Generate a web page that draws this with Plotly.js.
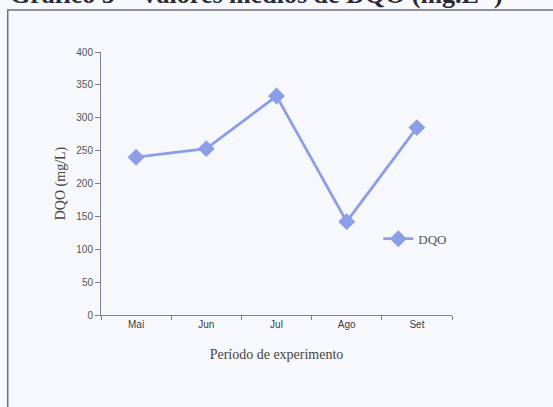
<!DOCTYPE html>
<html>
<head>
<meta charset="utf-8">
<script src="https://cdn.plot.ly/plotly-3.0.1.min.js"></script>
<style>html,body{margin:0;padding:0;background:#f7f8fb;}#chart{width:553px;height:407px;}</style>
</head>
<body>
<div id="chart"></div>
<script>
const months = ["Mai", "Jun", "Jul", "Ago", "Set"];
const dqo = [240, 253, 333, 142, 285];
const yTicks = [0, 50, 100, 150, 200, 250, 300, 350, 400];
const seriesName = "DQO";

const lineColor = "#8c9fe6";
const axisColor = "#7a7f9e";

const trace = {
  x: months,
  y: dqo,
  type: "scatter",
  mode: "lines+markers",
  name: seriesName,
  line: {color: lineColor, width: 2.8},
  marker: {symbol: "diamond", size: 13, color: lineColor}
};

const layout = {
  width: 553,
  height: 407,
  margin: {l: 101, r: 101, t: 52, b: 92},
  paper_bgcolor: "#f7f8fb",
  plot_bgcolor: "rgba(0,0,0,0)",
  showlegend: true,
  legend: {
    x: 0.79, y: 0.29, xanchor: "left", yanchor: "middle",
    bgcolor: "rgba(0,0,0,0)",
    font: {family: "Liberation Serif, Times New Roman, serif", size: 13, color: "#555"}
  },
  xaxis: {
    type: "category",
    range: [-0.5, 4.5],
    showline: true, linecolor: axisColor, linewidth: 1,
    ticks: "outside", tickson: "boundaries", ticklen: 4, tickcolor: axisColor,
    showgrid: false, zeroline: false,
    tickfont: {family: "Liberation Sans, Arial, sans-serif", size: 10, color: "#3a3a48"},
    title: {text: "Período de experimento", standoff: 20,
      font: {family: "Liberation Serif, Times New Roman, serif", size: 14, color: "#444"}}
  },
  yaxis: {
    range: [0, 400],
    tickvals: yTicks,
    showline: true, linecolor: axisColor, linewidth: 1,
    ticks: "outside", ticklen: 5, tickcolor: axisColor,
    showgrid: false, zeroline: false,
    tickfont: {family: "Liberation Sans, Arial, sans-serif", size: 10, color: "#555"},
    title: {text: "DQO (mg/L)", standoff: 7,
      font: {family: "Liberation Serif, Times New Roman, serif", size: 14, color: "#444"}}
  },
  shapes: [{
    type: "rect", xref: "paper", yref: "paper",
    x0: -0.2657, x1: 1.4, y0: -0.5, y1: 1.1597,
    line: {color: "#6e7080", width: 1.5}, fillcolor: "rgba(0,0,0,0)"
  }],
  annotations: [{
    text: "<b>Gráfico 5 – Valores médios de DQO (mg.L<sup>-1</sup>)</b>",
    xref: "paper", yref: "paper", x: -0.266, y: 1.155,
    xanchor: "left", yanchor: "bottom", showarrow: false,
    font: {family: "Liberation Serif, Times New Roman, serif", size: 26, color: "#2a2a35"}
  }]
};

Plotly.newPlot("chart", [trace], layout, {displayModeBar: false});
</script>
</body>
</html>
